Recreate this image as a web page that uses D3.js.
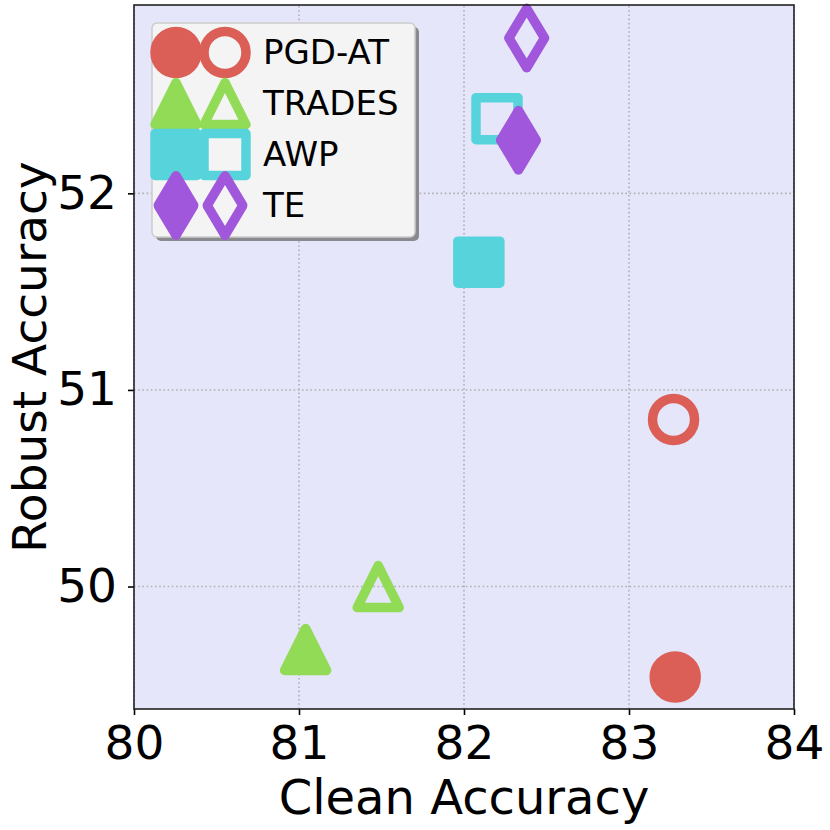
<!DOCTYPE html>
<html>
<head>
<meta charset="utf-8">
<script src="https://cdn.jsdelivr.net/npm/d3@7"></script>
<style>
  body { margin: 0; background: #fff; }
  text { font-family: 'DejaVu Sans', sans-serif; fill: #000; }
</style>
</head>
<body>
<div id="chart"></div>
<script>
// methods, colours and marker shapes
const methods = ['PGD-AT', 'TRADES', 'AWP', 'TE']
const colors = ['#db5f57', '#91db57', '#57d3db', '#a157db']
const shapes = ['circle', 'triangle', 'square', 'thinDiamond']

// filled marker = first setting, hollow marker = second setting
const cleanFilled = [83.28, 81.04, 82.09, 82.33]
const robustFilled = [49.54, 49.68, 51.65, 52.27]
const cleanHollow = [83.27, 81.48, 82.20, 82.38]
const robustHollow = [50.85, 50.00, 52.38, 52.79]

const xTicks = [80, 81, 82, 83, 84]
const yTicks = [50, 51, 52]

const width = 830
const height = 830
const margin = { top: 5, right: 36, bottom: 121, left: 134 }
const tickFont = 47
const labelFont = 48
const markerSize = 42
const markerEdge = 9.5

const x = d3.scaleLinear().domain([80, 84]).range([margin.left, width - margin.right])
const y = d3.scaleLinear().domain([49.377, 52.958]).range([height - margin.bottom, margin.top])

// matplotlib-like marker outlines, centred on 0,0
function markerPath (shape, s) {
  const p = d3.path()
  const h = s / 2
  if (shape === 'circle') {
    p.arc(0, 0, h, 0, 2 * Math.PI)
  } else if (shape === 'triangle') {
    p.moveTo(0, -h); p.lineTo(h, h); p.lineTo(-h, h)
  } else if (shape === 'square') {
    p.rect(-h, -h, s, s)
  } else {
    const t = s * Math.SQRT1_2
    p.moveTo(0, -t); p.lineTo(0.6 * t, 0); p.lineTo(0, t); p.lineTo(-0.6 * t, 0)
  }
  p.closePath()
  return p.toString()
}

const points = []
methods.forEach((m, i) => {
  points.push({ method: m, shape: shapes[i], color: colors[i], filled: true, cx: cleanFilled[i], cy: robustFilled[i] })
  points.push({ method: m, shape: shapes[i], color: colors[i], filled: false, cx: cleanHollow[i], cy: robustHollow[i] })
})

const svg = d3.select('#chart').append('svg')
  .attr('width', width)
  .attr('height', height)

svg.append('rect')
  .attr('x', x(80)).attr('y', y.range()[1])
  .attr('width', x(84) - x(80)).attr('height', y.range()[0] - y.range()[1])
  .attr('fill', '#e6e6fa')

// grid
const grid = svg.append('g').attr('class', 'grid')
  .attr('stroke', '#b0b0b0').attr('stroke-width', 1.6).attr('stroke-dasharray', '1.6,2.6')
grid.selectAll('.gx').data(xTicks).enter().append('line')
  .attr('x1', d => x(d)).attr('x2', d => x(d))
  .attr('y1', y.range()[0]).attr('y2', y.range()[1])
grid.selectAll('.gy').data(yTicks).enter().append('line')
  .attr('y1', d => y(d)).attr('y2', d => y(d))
  .attr('x1', x(80)).attr('x2', x(84))

// markers
svg.append('g').selectAll('path')
  .data(points)
  .enter()
  .append('path')
  .attr('transform', d => `translate(${x(d.cx)},${y(d.cy)})`)
  .attr('d', d => markerPath(d.shape, markerSize))
  .attr('fill', d => d.filled ? d.color : 'none')
  .attr('stroke', d => d.color)
  .attr('stroke-width', markerEdge)
  .attr('stroke-linejoin', 'round')

// axes
const xAxis = svg.append('g')
  .attr('transform', `translate(0,${y.range()[0]})`)
  .call(d3.axisBottom(x).tickValues(xTicks).tickFormat(d3.format('d')).tickSize(6).tickPadding(11))
const yAxis = svg.append('g')
  .attr('transform', `translate(${x(80)},0)`)
  .call(d3.axisLeft(y).tickValues(yTicks).tickFormat(d3.format('d')).tickSize(6).tickPadding(11))

;[xAxis, yAxis].forEach(a => {
  a.select('.domain').remove()
  a.selectAll('.tick line').attr('stroke', '#000').attr('stroke-width', 1.6)
  a.selectAll('.tick text')
    .attr('font-size', tickFont)
    .attr('font-family', "'DejaVu Sans', sans-serif")
    .attr('fill', '#000')
})

// frame
svg.append('rect')
  .attr('x', x(80)).attr('y', y.range()[1])
  .attr('width', x(84) - x(80)).attr('height', y.range()[0] - y.range()[1])
  .attr('fill', 'none')
  .attr('stroke', '#222')
  .attr('stroke-width', 1.6)

svg.append('text')
  .attr('x', (x(80) + x(84)) / 2)
  .attr('y', 814)
  .attr('text-anchor', 'middle')
  .attr('font-size', labelFont)
  .text('Clean Accuracy')

svg.append('text')
  .attr('transform', `translate(46,${(y.range()[0] + y.range()[1]) / 2}) rotate(-90)`)
  .attr('text-anchor', 'middle')
  .attr('font-size', 47)
  .text('Robust Accuracy')

// legend
const legendFont = 34
const legend = svg.append('g').attr('class', 'legend')
legend.append('rect')
  .attr('x', 156).attr('y', 27).attr('width', 263).attr('height', 214)
  .attr('rx', 5).attr('fill', '#8a8a8e')
legend.append('rect')
  .attr('x', 152).attr('y', 23).attr('width', 263).attr('height', 214)
  .attr('rx', 5).attr('fill', '#f4f4f4')
  .attr('stroke', '#cccccc').attr('stroke-width', 1.5)

const rows = legend.selectAll('.row')
  .data(methods)
  .enter()
  .append('g')
  .attr('transform', (_, i) => `translate(0,${52.5 + i * 51})`)

rows.each(function (m, i) {
  const row = d3.select(this)
  ;[176, 225].forEach((cx, j) => {
    row.append('path')
      .attr('transform', `translate(${cx},0)`)
      .attr('d', markerPath(shapes[i], markerSize))
      .attr('fill', j === 0 ? colors[i] : 'none')
      .attr('stroke', colors[i])
      .attr('stroke-width', markerEdge)
      .attr('stroke-linejoin', 'round')
  })
  row.append('text')
    .attr('x', 263)
    .attr('y', legendFont * 0.33)
    .attr('font-size', legendFont)
    .text(m)
})
</script>
</body>
</html>
